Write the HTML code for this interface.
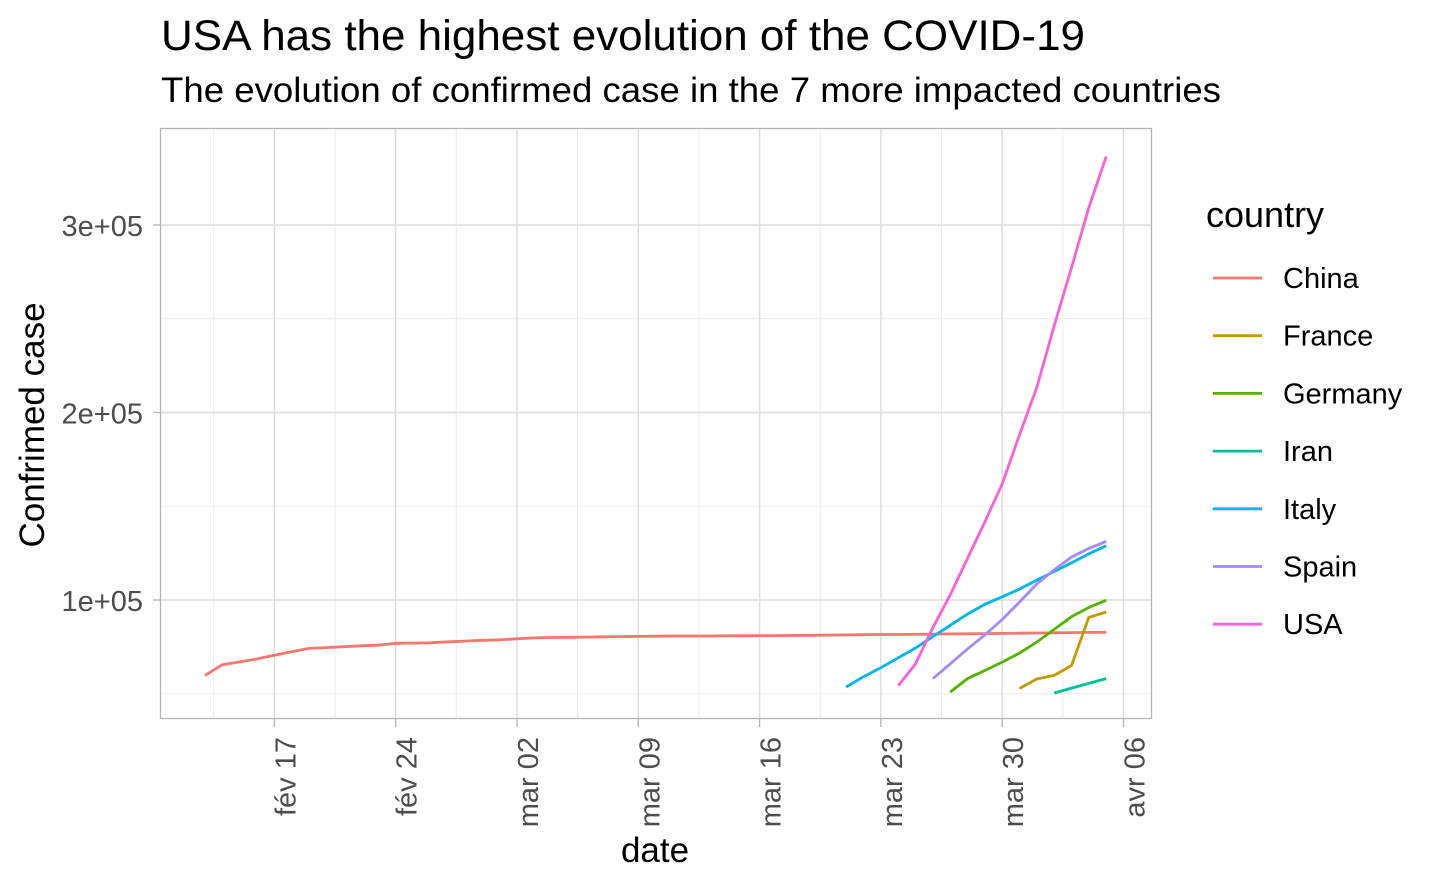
<!DOCTYPE html>
<html><head><meta charset="utf-8"><style>
body{margin:0;background:#fff;width:1440px;height:889px;overflow:hidden}
svg{font-family:"Liberation Sans",Arial,sans-serif}
</style></head><body>
<svg width="1440" height="889" id="chart">
<text x="161" y="50" font-size="43" textLength="924" lengthAdjust="spacingAndGlyphs" fill="#000">USA has the highest evolution of the COVID-19</text>
<text x="161" y="102" font-size="35" textLength="1060" lengthAdjust="spacingAndGlyphs" fill="#000">The evolution of confirmed case in the 7 more impacted countries</text>
<g id="grid"></g>
<rect x="160.5" y="128.5" width="991" height="590" fill="none" stroke="#b3b3b3" stroke-width="1.3"/>
<g id="series"></g>
<g id="axes"></g>
<text x="655" y="862" font-size="35" text-anchor="middle">date</text>
<text transform="translate(44,425) rotate(-90)" font-size="35" text-anchor="middle">Confrimed case</text>
<text x="1206" y="227" font-size="36">country</text>
<g id="legend"></g>
</svg>
<script>
const countries=["China","France","Germany","Iran","Italy","Spain","USA"];
const colors=["#F8766D","#C49A00","#53B400","#00C094","#00B6EB","#A58AFF","#FB61D7"];
const startDay=[0,47,43,49,37,42,40];
const china=[59800,65500,67000,68600,70500,72400,74200,74600,75100,75600,75900,76900,77000,77200,77700,78100,78500,78800,79300,79800,80000,80100,80200,80400,80500,80600,80700,80800,80800,80800,80900,80900,81000,81000,81100,81200,81300,81400,81500,81600,81600,81700,81800,81900,82000,82100,82200,82300,82400,82500,82600,82700,82800];
const france=[52800,57900,59800,65000,90700,93600];
const germany=[50900,58100,62400,66900,71700,77600,84300,91100,96000,99900];
const iran=[50400,53000,55500,58100];
const italy=[53600,59100,63900,69200,74400,80500,86500,92500,97700,101700,105800,110600,115200,119800,124600,128900];
const spain=[58100,65900,73900,81400,89600,98900,108600,116100,122900,127500,131300];
const usa=[54300,65900,85300,102700,122200,141600,161900,188100,213300,246300,277300,309300,336500];
const seriesVals=[china,france,germany,iran,italy,spain,usa];
const xTickDays=[4,11,18,25,32,39,46,53];
const xTickLabels=["fév 17","fév 24","mar 02","mar 09","mar 16","mar 23","mar 30","avr 06"];
const yTicks=[100000,200000,300000];
const yTickLabels=["1e+05","2e+05","3e+05"];
const yMinor=[50000,150000,250000];

const NS="http://www.w3.org/2000/svg";
const X=d=>205+d*17.33;
const Y=v=>600-(v-100000)/100000*187.5;
function mk(tag,attrs,parent){const e=document.createElementNS(NS,tag);for(const k in attrs)e.setAttribute(k,attrs[k]);parent.appendChild(e);return e;}
const grid=document.getElementById('grid'),axes=document.getElementById('axes'),ser=document.getElementById('series'),leg=document.getElementById('legend');
yMinor.forEach(v=>{const l=mk('line',{x1:161,x2:1151,y1:Y(v),y2:Y(v),stroke:'#ebebeb','stroke-width':1},grid);

});
xTickDays.forEach(d=>{const l=mk('line',{x1:X(d-3.5),x2:X(d-3.5),y1:129,y2:718,stroke:'#ebebeb','stroke-width':1},grid);

});
yTicks.forEach((v,i)=>{const l=mk('line',{x1:161,x2:1151,y1:Y(v),y2:Y(v),stroke:'#dedede','stroke-width':1.5},grid);


const t=mk('line',{x1:153,x2:160,y1:Y(v),y2:Y(v),stroke:'#b3b3b3','stroke-width':1.3},axes);


const tx=mk('text',{x:143,y:Y(v)+11,'font-size':29,fill:'#4d4d4d','text-anchor':'end'},axes);tx.textContent=yTickLabels[i];

});
xTickDays.forEach((d,i)=>{const x=X(d);
const l=mk('line',{x1:x,x2:x,y1:129,y2:718,stroke:'#dedede','stroke-width':1.5},grid);


const t=mk('line',{x1:x,x2:x,y1:719,y2:727,stroke:'#b3b3b3','stroke-width':1.3},axes);


const tx=mk('text',{transform:`translate(${x+21},737) rotate(-90)`,'font-size':29,fill:'#4d4d4d','text-anchor':'end'},axes);tx.textContent=xTickLabels[i];

});
seriesVals.forEach((vals,i)=>{const pts=vals.map((v,j)=>X(startDay[i]+j).toFixed(1)+','+Y(v).toFixed(1)).join(' ');
const p=mk('polyline',{points:pts,fill:'none',stroke:colors[i],'stroke-width':2.8},ser);


const y=278+i*57.7;
const g=mk('g',{},leg);


mk('line',{x1:1213,x2:1262,y1:y,y2:y,stroke:colors[i],'stroke-width':2.8},g);
const tx=mk('text',{x:1283,y:y+10,'font-size':29,fill:'#000'},g);tx.textContent=countries[i];});
</script>
</body></html>
